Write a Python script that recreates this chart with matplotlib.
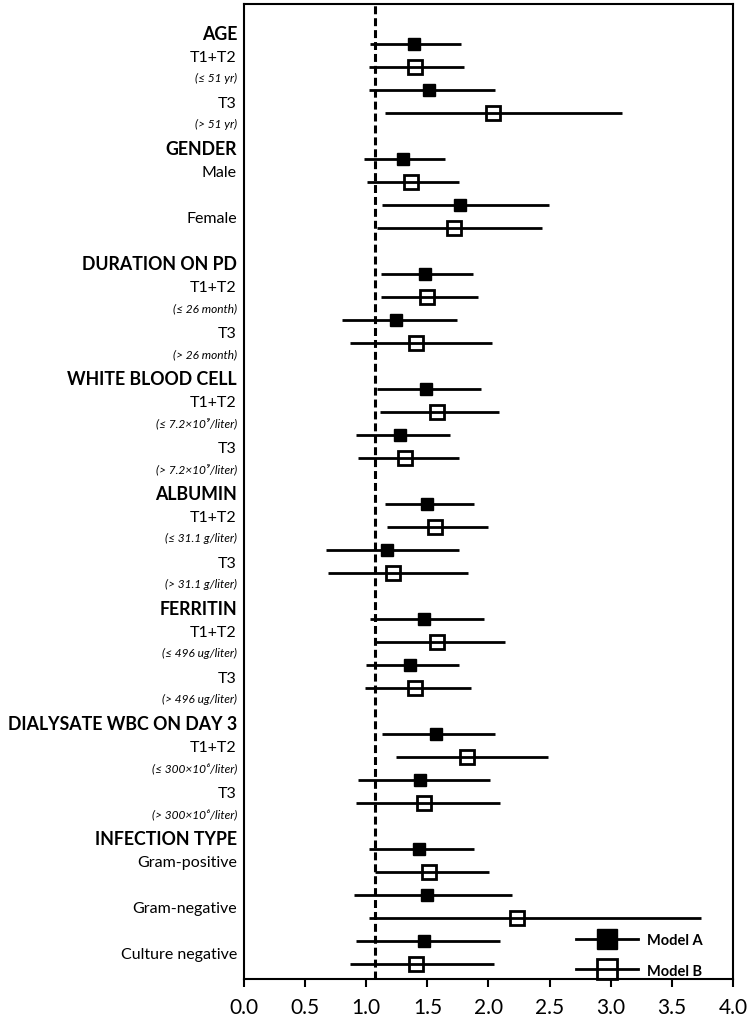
import matplotlib.pyplot as plt
from matplotlib.lines import Line2D

plt.rcParams['font.family'] = ['Lato', 'DejaVu Sans']

# groups and subgroups, top to bottom
groups = ['AGE', 'GENDER', 'DURATION ON PD', 'WHITE BLOOD CELL', 'ALBUMIN',
          'FERRITIN', 'DIALYSATE WBC ON DAY 3', 'INFECTION TYPE']
subgroups = [['T1+T2', 'T3'],
             ['Male', 'Female'],
             ['T1+T2', 'T3'],
             ['T1+T2', 'T3'],
             ['T1+T2', 'T3'],
             ['T1+T2', 'T3'],
             ['T1+T2', 'T3'],
             ['Gram-positive', 'Gram-negative', 'Culture negative']]
notes = [['(≤ 51 yr)', '(> 51 yr)'],
         ['', ''],
         ['(≤ 26 month)', '(> 26 month)'],
         ['(≤ 7.2×10⁹/liter)', '(> 7.2×10⁹/liter)'],
         ['(≤ 31.1 g/liter)', '(> 31.1 g/liter)'],
         ['(≤ 496 ug/liter)', '(> 496 ug/liter)'],
         ['(≤ 300×10⁶/liter)', '(> 300×10⁶/liter)'],
         ['', '', '']]

# Model A: estimate and 95% CI
est_a = [1.39, 1.51, 1.30, 1.77, 1.48, 1.24, 1.49, 1.28, 1.50, 1.17,
         1.475, 1.36, 1.57, 1.44, 1.43, 1.50, 1.47]
lo_a = [1.03, 1.02, 0.98, 1.13, 1.12, 0.80, 1.085, 0.92, 1.15, 0.67,
        1.03, 1.00, 1.13, 0.935, 1.025, 0.90, 0.92]
hi_a = [1.775, 2.05, 1.645, 2.495, 1.875, 1.745, 1.935, 1.685, 1.885, 1.755,
        1.965, 1.755, 2.05, 2.01, 1.885, 2.195, 2.095]

# Model B
est_b = [1.395, 2.04, 1.37, 1.72, 1.50, 1.41, 1.575, 1.32, 1.56, 1.215,
         1.58, 1.40, 1.825, 1.47, 1.515, 2.235, 1.41]
lo_b = [1.02, 1.15, 1.01, 1.09, 1.12, 0.867, 1.11, 0.935, 1.17, 0.69,
        1.07, 0.99, 1.243, 0.92, 1.07, 1.025, 0.87]
hi_b = [1.80, 3.095, 1.76, 2.44, 1.917, 2.03, 2.085, 1.755, 2.00, 1.835,
        2.135, 1.855, 2.485, 2.095, 2.005, 3.735, 2.045]

ref_line = 1.07

fig = plt.figure(figsize=(7.5, 10.2), dpi=100)
ax = fig.add_axes([0.3253, 0.0392, 0.652, 0.9559])

# build row positions: one header row per group, two rows per subgroup
ya, yb, header_y = [], [], []
k = 0
for g, subs in zip(groups, subgroups):
    header_y.append(k)
    k += 1
    for s in subs:
        ya.append(k)
        yb.append(k + 1)
        k += 2

lbl = ax.get_yaxis_transform()
xl = -0.0143
i = 0
for g, subs, nts, hy in zip(groups, subgroups, notes, header_y):
    ax.text(xl, hy + 0.56, g, transform=lbl, ha='right', va='center',
            fontsize=12.8, fontweight='bold')
    for s, n in zip(subs, nts):
        ax.text(xl, ya[i] + 0.58, s, transform=lbl, ha='right', va='center',
                fontsize=11.5)
        if n:
            ax.text(xl, ya[i] + 1.47, n, transform=lbl, ha='right',
                    va='center', fontsize=8.6, style='italic')
        i += 1

ax.axvline(ref_line, color='black', lw=2.2, ls=(0, (2.6, 1.3)), zorder=1)

ax.hlines(ya, lo_a, hi_a, color='black', lw=2.0, zorder=2)
ax.hlines(yb, lo_b, hi_b, color='black', lw=2.0, zorder=2)
ax.plot(est_a, ya, ls='none', marker='s', ms=9, color='black', zorder=3)
ax.plot(est_b, yb, ls='none', marker='s', ms=9.5, mfc='none', mec='black',
        mew=2.0, zorder=3)

ax.set_xlim(0, 4.0)
ax.set_ylim(41.65, -0.74)
ax.set_xticks([0.0, 0.5, 1.0, 1.5, 2.0, 2.5, 3.0, 3.5, 4.0])
ax.set_xticklabels(['0.0', '0.5', '1.0', '1.5', '2.0', '2.5', '3.0', '3.5', '4.0'])
ax.set_yticks([])
ax.tick_params(axis='x', direction='out', length=6, width=1.5, pad=7,
               labelsize=15)
for sp in ax.spines.values():
    sp.set_linewidth(1.5)

handles = [Line2D([], [], color='black', lw=2.0, marker='s', ms=15),
           Line2D([], [], color='black', lw=2.0, marker='s', ms=15,
                  mfc='none', mew=2.0)]
leg = ax.legend(handles, ['Model A', 'Model B'], loc='lower right',
                bbox_to_anchor=(0.965, -0.012), frameon=False, handlelength=4.3,
                handletextpad=0.6, labelspacing=1.15,
                prop={'weight': 'bold', 'size': 10.5})

fig.savefig('out.png', dpi=100)
